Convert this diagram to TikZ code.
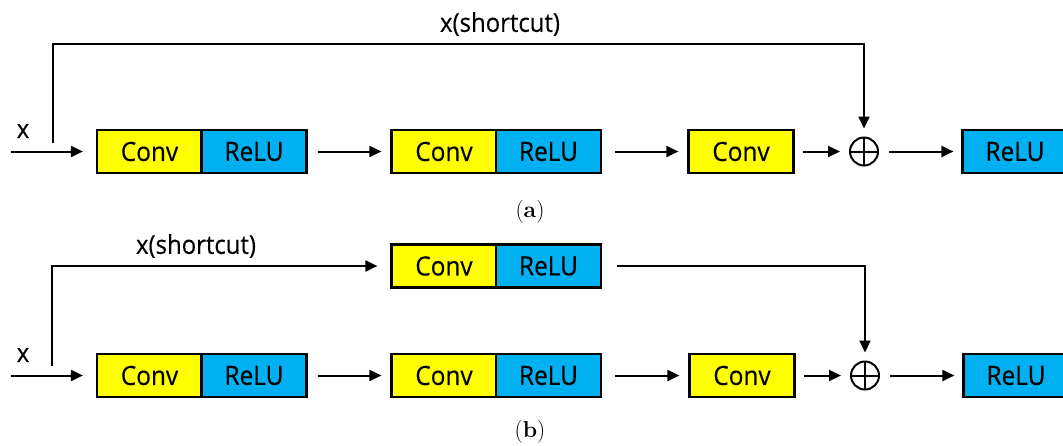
\documentclass[tikz,border=0pt]{standalone}
\usepackage{fontspec}
\newfontfamily\diagfont[FakeStretch=0.92,FakeBold=0.3]{Open Sans}
\usetikzlibrary{arrows.meta}
\definecolor{boxyellow}{HTML}{FFFF00}
\definecolor{boxblue}{HTML}{00B0F0}
\tikzset{
  blk/.style={draw=black, line width=2.2pt, minimum width=105pt, minimum height=43pt, inner sep=0pt,
    font=\diagfont\fontsize{26.5}{30}\selectfont},
  convbox/.style={blk, fill=boxyellow},
  relubox/.style={blk, fill=boxblue},
  conn/.style={line width=2pt, -{Triangle[length=12pt,width=11pt]}},
  lbl/.style={font=\diagfont\fontsize{26}{30}\selectfont, inner sep=0pt},
  figcap/.style={font=\fontsize{23}{26}\selectfont, inner sep=0pt},
  plus/.style={circle, draw=black, line width=2pt, minimum size=28pt, inner sep=0pt,
    path picture={\draw[line width=2pt] (path picture bounding box.north) -- (path picture bounding box.south)
      (path picture bounding box.west) -- (path picture bounding box.east);}}
}
\begin{document}
\begin{tikzpicture}[x=1pt,y=-1pt]
\useasboundingbox (0,0) rectangle (1063,445);
\clip (0,0) rectangle (1063,445);
% ---------- (a) ----------
\node[convbox] (ac1) at (149.5,151.5) {Conv};
\node[relubox] (ar1) at (254,151.5) {ReLU};
\node[convbox] (ac2) at (444,151.5) {Conv};
\node[relubox] (ar2) at (548.5,151.5) {ReLU};
\node[convbox] (ac3) at (741,151.5) {Conv};
\node[plus] (ap) at (864,151.5) {};
\node[relubox] (ar3) at (1015,151.5) {ReLU};
\coordinate (ain) at (11,151.5);
\coordinate (asc0) at (53,143);
\coordinate (asc1) at (53,44);
\coordinate (asc2) at (864,44);
\node[lbl] (ax) at (23,131) {x};
\node[lbl] (asl) at (500,24) {x(shortcut)};
\node[figcap] (acap) at (530,212) {(\textbf{a})};
\draw[conn, shorten >=13pt] (ain) -- (ac1.west);
\draw[conn, shorten <=10pt, shorten >=9pt] (ar1.east) -- (ac2.west);
\draw[conn, shorten <=13pt, shorten >=9pt] (ar2.east) -- (ac3.west);
\draw[conn, shorten <=8pt, shorten >=9pt] (ac3.east) -- (ap.west);
\draw[conn, shorten <=10pt, shorten >=8pt] (ap.east) -- (ar3.west);
\draw[conn, shorten >=8pt] (asc0) -- (asc1) -- (asc2) -- (ap.north);
% ---------- (b) ----------
\node[convbox] (bu1) at (444,266) {Conv};
\node[relubox] (bu2) at (548.5,266) {ReLU};
\node[convbox] (bc1) at (149.5,375.5) {Conv};
\node[relubox] (br1) at (254,375.5) {ReLU};
\node[convbox] (bc2) at (444,375.5) {Conv};
\node[relubox] (br2) at (548.5,375.5) {ReLU};
\node[convbox] (bc3) at (742,375.5) {Conv};
\node[plus] (bp) at (865,375.5) {};
\node[relubox] (br3) at (1016,375.5) {ReLU};
\coordinate (bin) at (11,375.5);
\coordinate (bsc0) at (52,366);
\coordinate (bsc1) at (52,266);
\coordinate (bsc2) at (865,266);
\node[lbl] (bx) at (23,355) {x};
\node[lbl] (bsl) at (196,246) {x(shortcut)};
\node[figcap] (bcap) at (530,432) {(\textbf{b})};
\draw[conn, shorten >=13pt] (bin) -- (bc1.west);
\draw[conn, shorten <=10pt, shorten >=9pt] (br1.east) -- (bc2.west);
\draw[conn, shorten <=13pt, shorten >=9pt] (br2.east) -- (bc3.west);
\draw[conn, shorten <=8pt, shorten >=9pt] (bc3.east) -- (bp.west);
\draw[conn, shorten <=10pt, shorten >=8pt] (bp.east) -- (br3.west);
\draw[conn, shorten >=13pt] (bsc0) -- (bsc1) -- (bu1.west);
\draw[conn, shorten >=8pt] (bu2.east) ++(15,0) -- (bsc2) -- (bp.north);
\end{tikzpicture}
\end{document}
